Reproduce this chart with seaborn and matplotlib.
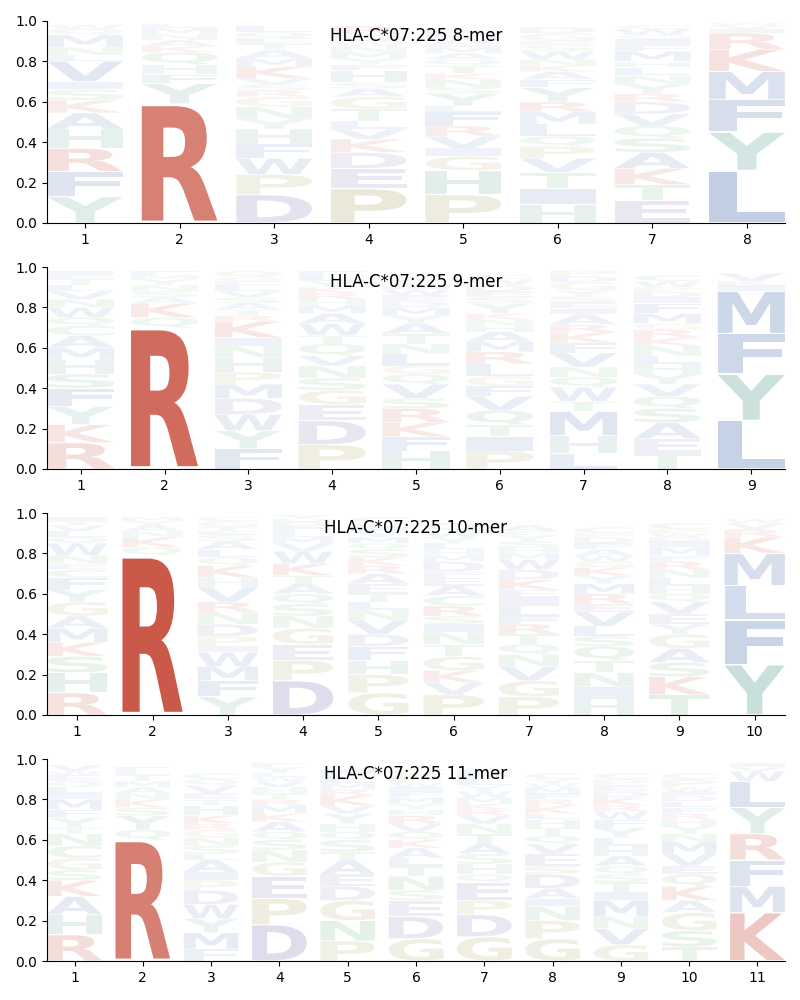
import matplotlib
matplotlib.use("Agg")
import matplotlib.pyplot as plt
import seaborn as sns
from matplotlib.textpath import TextPath
from matplotlib.font_manager import FontProperties
from matplotlib.patches import PathPatch
from matplotlib.transforms import Affine2D

# ---------------- data (bottom -> top per position) ----------------
titles = ["HLA-C*07:225 8-mer", "HLA-C*07:225 9-mer",
          "HLA-C*07:225 10-mer", "HLA-C*07:225 11-mer"]

letters_8 = ["YFRHAKSIVLNMQW", "RYFHQKANML", "DPWFHYNGRSVKMATEQL",
             "PEDKVLTGASHFYMNWQR", "PHGIVRFLYSNKTQAMEWDC",
             "HITVPQLMRYFAKNWSEGD", "ETKASQVDRYNLHMFIGWC", "LYFMKRIVW"]
heights_8 = [
    [.13, .125, .115, .095, .08, .063, .053, .04, .10, .03, .04, .06, .03, .02],
    [.59, .10, .045, .05, .06, .03, .03, .03, .03, .02],
    [.14, .10, .08, .07, .075, .05, .06, .05, .03, .03, .03, .06, .04, .04, .03, .03, .03, .03],
    [.17, .10, .08, .065, .05, .04, .06, .06, .04, .03, .06, .03, .03, .03, .03, .02, .04, .04],
    [.14, .12, .07, .04, .06, .05, .07, .03, .06, .03, .04, .03, .04, .03, .03, .03, .02, .03, .03, .02],
    [.09, .08, .08, .07, .06, .05, .06, .06, .05, .07, .04, .04, .03, .03, .04, .03, .02, .04, .03],
    [.11, .08, .08, .08, .07, .06, .06, .06, .04, .05, .04, .04, .03, .05, .03, .03, .02, .03, .02],
    [.26, .19, .16, .14, .11, .08, .02, .02, .01],
]

letters_9 = ["RKYFSHMACQWNVLTEI", "RQKASNYMF", "FYWDMPHNIKRTASVLEGQ",
             "PDEGSNVQTWAMHRKYLF", "HFKRSVQGLNTAYMDEWICP",
             "PITQVFGLRMAHNKYSEDWC", "LHMTWQNVFKRAIESYGDP",
             "TEASQVYHLNKRGMFIDPWC", "LYFMIKV"]
heights_9 = [
    [.13, .09, .09, .09, .07, .07, .06, .06, .05, .04, .05, .04, .04, .03, .03, .02, .02],
    [.70, .05, .07, .03, .03, .03, .03, .02, .02],
    [.10, .09, .08, .08, .07, .06, .07, .06, .04, .08, .03, .03, .03, .03, .03, .03, .02, .02, .03],
    [.12, .12, .08, .07, .06, .06, .05, .06, .04, .06, .05, .04, .03, .03, .03, .03, .03, .02],
    [.09, .07, .07, .07, .05, .07, .05, .04, .06, .05, .05, .05, .04, .04, .03, .03, .03, .02, .03, .03],
    [.09, .07, .06, .07, .07, .05, .05, .06, .06, .05, .05, .03, .03, .03, .05, .03, .03, .03, .03, .02],
    [.075, .09, .12, .05, .07, .05, .05, .07, .05, .05, .04, .05, .03, .03, .03, .03, .04, .03, .03],
    [.08, .07, .08, .07, .06, .06, .05, .05, .04, .05, .04, .04, .03, .05, .05, .03, .03, .02, .03, .03],
    [.24, .23, .20, .21, .03, .02, .04],
]

letters_10 = ["RHSKMAGYFCENWQLVTI", "RQKNAYM", "YFMWIPDNRVHKQLASETGC",
              "DPEGNSQATKWVMLFHY", "GPHFDVNLTEARKSQMYIWC",
              "PVKGTNISRCAEFDMHLYWQ", "PGVNQTRFLIEKDWMHSYCA",
              "HINTQSLVERMYKGWAFDPC", "TKSAGYEVQHLNRFMIDWPC", "YFLMKRVW"]
heights_10 = [
    [.11, .10, .08, .07, .07, .06, .07, .06, .06, .04, .03, .04, .06, .03, .03, .03, .02, .02],
    [.79, .04, .05, .03, .03, .02, .02],
    [.09, .08, .07, .07, .03, .05, .06, .06, .05, .07, .05, .06, .04, .04, .04, .03, .02, .02, .03, .02],
    [.17, .10, .08, .08, .06, .06, .05, .05, .04, .06, .06, .04, .03, .03, .03, .03, .02],
    [.11, .09, .07, .07, .06, .07, .05, .04, .04, .05, .05, .04, .04, .04, .03, .03, .03, .02, .02, .03],
    [.10, .06, .06, .07, .06, .06, .04, .04, .05, .05, .05, .04, .03, .05, .03, .03, .03, .03, .03, .04],
    [.09, .08, .07, .06, .05, .05, .05, .04, .05, .04, .04, .05, .05, .05, .03, .03, .03, .03, .02, .03],
    [.08, .06, .07, .06, .07, .05, .05, .07, .04, .05, .05, .04, .04, .03, .03, .03, .03, .03, .02, .03],
    [.10, .09, .07, .07, .07, .05, .05, .06, .04, .04, .04, .04, .04, .03, .04, .03, .02, .02, .02, .03],
    [.25, .22, .17, .16, .08, .04, .03, .02],
]

letters_11 = ["RHAKSGCNTYFMILQEWV", "RQYSKNAMTLF", "FMYWDPIALSNGRKHTEVQC",
              "DPEGNSQAKMRTHVWLYF", "PNGDEATSQHYVKRMLFI",
              "GDESNTLAKQVRHYMFIWPC", "GDPEQHSATNVRKMWYLFI",
              "GPNIADSEVQTHLKRFMWYC", "GVNMITSQAHLYFWRKDEPC",
              "TSGAKQEVMNYHRFLDIWPC", "KMFRYLWVI"]
heights_11 = [
    [.13, .10, .09, .08, .05, .06, .06, .06, .03, .05, .04, .05, .03, .03, .03, .03, .02, .03],
    [.60, .05, .07, .04, .04, .03, .03, .03, .03, .02, .02],
    [.06, .08, .07, .07, .07, .05, .04, .06, .03, .04, .04, .04, .03, .04, .05, .03, .03, .04, .03, .03],
    [.18, .13, .11, .07, .06, .05, .04, .05, .04, .04, .03, .03, .03, .03, .02, .02, .03, .02],
    [.10, .10, .10, .07, .06, .07, .04, .06, .04, .04, .05, .04, .05, .03, .03, .03, .02, .02],
    [.11, .11, .08, .05, .07, .05, .04, .05, .04, .04, .04, .04, .03, .03, .03, .03, .02, .02, .04, .03],
    [.12, .11, .07, .09, .04, .05, .05, .05, .05, .05, .04, .03, .03, .03, .03, .03, .03, .03, .02],
    [.11, .09, .07, .04, .05, .07, .04, .06, .05, .04, .04, .04, .03, .04, .03, .03, .03, .02, .02, .03],
    [.08, .08, .06, .08, .04, .05, .04, .04, .05, .05, .04, .05, .04, .04, .03, .04, .03, .03, .03, .03],
    [.07, .08, .09, .06, .07, .06, .04, .06, .06, .04, .04, .03, .03, .03, .03, .03, .02, .02, .04, .03],
    [.24, .13, .13, .13, .13, .13, .05, .02, .02],
]

all_letters = [letters_8, letters_9, letters_10, letters_11]
all_heights = [heights_8, heights_9, heights_10, heights_11]

# amino-acid colour groups
group_colors = {
    "basic": "#c8503f", "acidic": "#8172b3", "pg": "#a6a05a",
    "aromatic_polar": "#5aa096", "hydrophobic": "#4c72b0", "polar": "#55a868",
}
aa_group = {}
for a in "RK": aa_group[a] = "basic"
for a in "DE": aa_group[a] = "acidic"
for a in "PG": aa_group[a] = "pg"
for a in "HY": aa_group[a] = "aromatic_polar"
for a in "AVLIMFW": aa_group[a] = "hydrophobic"
for a in "STNQC": aa_group[a] = "polar"

# ---------------- drawing ----------------
sns.set_style("ticks")
plt.rcParams['font.family'] = ['DejaVu Sans']
plt.rcParams['text.color'] = 'black'
plt.rcParams['axes.edgecolor'] = 'black'
plt.rcParams['xtick.color'] = 'black'
plt.rcParams['ytick.color'] = 'black'
plt.rcParams['axes.labelcolor'] = 'black'

fp = FontProperties(family="DejaVu Sans", weight="bold")
_cache = {}


def glyph(ch):
    if ch not in _cache:
        tp = TextPath((0, 0), ch, size=1, prop=fp)
        _cache[ch] = (tp, tp.get_extents())
    return _cache[ch]


def draw_letter(ax, ch, x, y, w, h, color, alpha):
    tp, bb = glyph(ch)
    vpad = 0.04
    hh = h * (1 - vpad)
    y0 = y + h * vpad / 2
    t = (Affine2D().translate(-bb.x0, -bb.y0)
         .scale(w / bb.width, hh / bb.height)
         .translate(x - w / 2, y0))
    ax.add_patch(PathPatch(t.transform_path(tp), fc=color, ec="none",
                           alpha=alpha, lw=0, zorder=2))


fig, axes = plt.subplots(4, 1, figsize=(8, 10), dpi=100)
fig.subplots_adjust(left=0.059, right=0.981, top=0.979, bottom=0.039, hspace=0.218)

for ax, title, lets, hts in zip(axes, titles, all_letters, all_heights):
    n = len(lets)
    for i, (ls, hs) in enumerate(zip(lets, hts)):
        pos = i + 1
        base = 0.0
        for ch, h in zip(ls, hs):
            alpha = min(1.0, 0.04 + 1.15 * h)
            draw_letter(ax, ch, pos, base, 0.8, h,
                        group_colors[aa_group[ch]], alpha)
            base += h
    ax.set_xlim(0.6, n + 0.4)
    ax.set_ylim(0, 1)
    ax.set_xticks(range(1, n + 1))
    ax.set_yticks([0, 0.2, 0.4, 0.6, 0.8, 1.0])
    ax.set_yticklabels(["0.0", "0.2", "0.4", "0.6", "0.8", "1.0"])
    sns.despine(ax=ax)
    ax.text(0.5, 0.925, title, transform=ax.transAxes, ha="center",
            va="center", fontsize=12, color="black", zorder=5)

fig.savefig("out.png", dpi=100)
